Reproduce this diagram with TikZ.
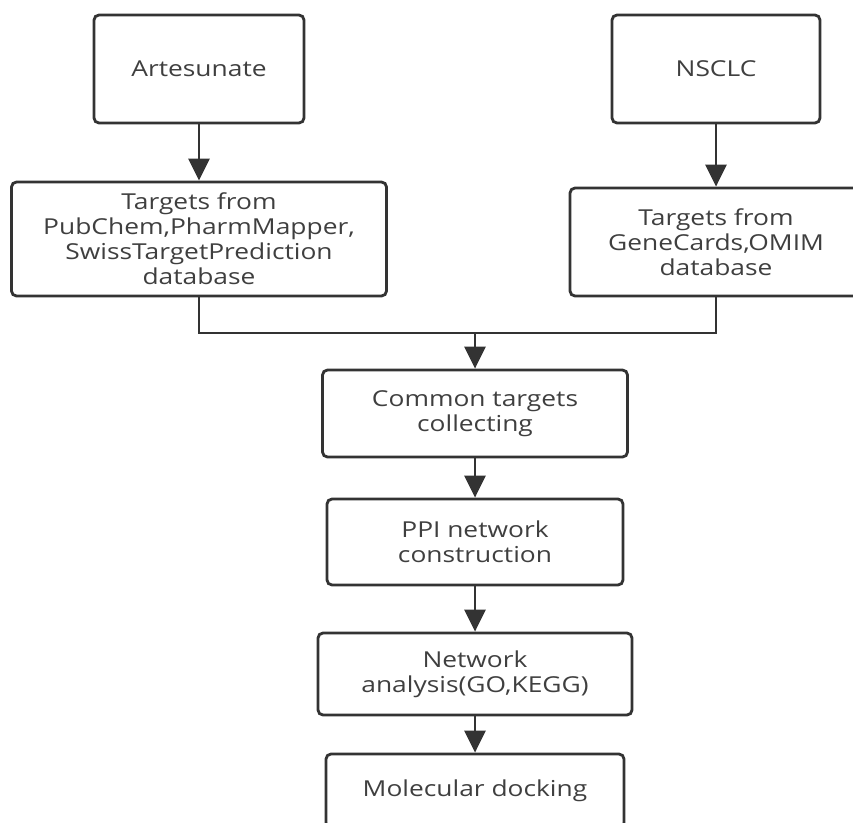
\documentclass[tikz,border=0pt]{standalone}
\usepackage{fontspec}
\setmainfont[FakeStretch=1.2]{Open Sans}
\usepackage{tikz}
\usetikzlibrary{arrows.meta}
\usetikzlibrary{positioning}
\definecolor{linegray}{HTML}{333333}
\definecolor{textgray}{HTML}{3F3F3F}
\tikzset{stepbox/.style={draw=linegray,line width=1.6pt,rounded corners=1mm,align=center,text=textgray,inner sep=0pt,font=\fontsize{12.5}{14.2}\selectfont}}

\begin{document}
\begin{tikzpicture}[flow/.style={draw=linegray,line width=1.6pt,-{Triangle[length=0.44cm,width=0.42cm]}}]
\clip (0,0) rectangle (17.06,-16.44);
\node[stepbox, minimum width=4.2cm, minimum height=2.16cm] (art) at (3.98,-1.38) {Artesunate};
\node[stepbox, minimum width=4.16cm, minimum height=2.16cm] (nsclc) at (14.32,-1.38) {NSCLC};
\node[stepbox, minimum width=7.5cm, minimum height=2.28cm] (pub) at (3.98,-4.78) {Targets from\\PubChem,PharmMapper,\\SwissTargetPrediction\\database};
\node[stepbox, minimum width=5.84cm, minimum height=2.16cm] (gene) at (14.32,-4.84) {Targets from\\GeneCards,OMIM\\database};
\coordinate (join) at (9.5,-6.66);
\node[stepbox, minimum width=6.1cm, minimum height=1.74cm] (common) at (9.5,-8.27) {Common targets\\collecting};
\node[stepbox, minimum width=5.92cm, minimum height=1.72cm] (ppi) at (9.5,-10.84) {PPI network\\construction};
\node[stepbox, minimum width=6.28cm, minimum height=1.64cm] (net) at (9.5,-13.48) {Network\\analysis(GO,KEGG)};
\node[stepbox, minimum width=5.96cm, minimum height=1.48cm] (mol) at (9.5,-15.82) {Molecular docking};

\draw[flow] (art) -- (pub);
\draw[flow] (nsclc) -- (gene);
\draw[draw=linegray,line width=1.6pt] (pub.south) |- (join) -| (gene.south);
\draw[flow] (join) -- (common);
\draw[flow] (common) -- (ppi);
\draw[flow] (ppi) -- (net);
\draw[flow] (net) -- (mol);

\end{tikzpicture}
\end{document}
